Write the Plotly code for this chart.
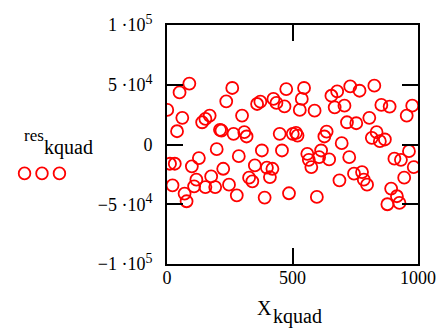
import plotly.graph_objects as go

x_kquad = [1, 12, 22, 31, 40, 50, 61, 70, 78, 89, 99, 108, 117, 127, 140, 153, 153, 170, 176, 192,
           198, 211, 217, 224, 236, 247, 260, 265, 278, 286, 299, 308, 317, 327, 340, 350, 359, 372,
           378, 389, 398, 410, 420, 424, 436, 449, 458, 468, 475, 486, 501, 514, 520, 529, 537, 546,
           559, 565, 575, 588, 597, 606, 614, 627, 636, 646, 655, 668, 678, 687, 696, 707, 717, 726,
           730, 745, 754, 767, 777, 784, 797, 806, 816, 826, 835, 848, 854, 868, 878, 887, 893, 906,
           916, 926, 932, 945, 955, 964, 977, 983]
res_kquad = [28900, -16100, -34200, -16100, 11100, 43600, 22300, -41100, -47500, 51000, -18300,
             -35000, -29400, -11400, 18600, 21400, -35600, 24200, -26700, -35600, -3900, 12300,
             11700, -20300, 36100, -33600, 47300, 8900, -42500, -9800, 24200, 10300, 6700, -27800,
             -30800, -17500, 33900, 35800, -5000, -44400, -19400, -27300, -20300, 38100, 34800, 8900,
             -5000, 31900, 46400, -40800, 8900, 9800, 7500, 28900, 38100, 47300, -7800, -12800,
             -18900, 28300, -43900, -10600, -5000, 6700, 10800, -12500, 40800, 31100, 44400, -30000,
             1100, 32500, 18600, -10600, 48600, -24400, 17800, 45000, -23100, -29400, -33600, 22300,
             5600, 49200, 10300, 2800, 33100, 4200, -50000, 31700, -36900, -11900, -43300, -48900,
             -12800, -27800, 24200, -5600, 32500, -18900]

x_ticks = [0, 500, 1000]
x_ticktext = ["0", "500", "1000"]
y_ticks = [-100000, -50000, 0, 50000, 100000]
SUP = "<sup><span style='font-size:14px'>%s</span></sup>"
y_ticktext = ["\u22121 \u00b710" + SUP % "5", "\u22125 \u00b710" + SUP % "4", "0",
              "5 \u00b710" + SUP % "4", "1 \u00b710" + SUP % "5"]

W, H = 448, 331
# plot frame in page pixels
L, R, T, B = 167, 426, 24, 264
FONT = "Liberation Serif"


def px(xp):
    return (xp - L) / (R - L)


def py(yp):
    return (B - yp) / (B - T)


fig = go.Figure()
fig.add_trace(go.Scatter(
    x=x_kquad, y=res_kquad, mode="markers", showlegend=False,
    marker=dict(symbol="circle-open", size=12, color="#ff0000",
                line=dict(color="#ff0000", width=1.8)),
    cliponaxis=True, hoverinfo="skip",
))

axis_common = dict(
    showline=True, linecolor="black", linewidth=2, mirror="ticks",
    ticks="inside", ticklen=16, tickwidth=2, tickcolor="black",
    showgrid=False, zeroline=False,
    tickfont=dict(family=FONT, size=18, color="black"),
)

fig.update_xaxes(range=[0, 1000], tickvals=x_ticks, ticktext=x_ticktext,
                 ticklabelstandoff=-4, **axis_common)
fig.update_yaxes(range=[-100000, 100000], tickvals=y_ticks, ticktext=y_ticktext,
                 ticklabelstandoff=9, **axis_common)

annotations = [
    dict(text="X", x=px(258), y=py(308), xanchor="left", yanchor="middle",
         font=dict(family=FONT, size=20, color="black")),
    dict(text="kquad", x=px(274), y=py(317), xanchor="left", yanchor="middle",
         font=dict(family=FONT, size=20, color="black")),
    dict(text="res", x=px(17), y=py(135), xanchor="left", yanchor="middle",
         font=dict(family=FONT, size=17, color="black")),
    dict(text="kquad", x=px(38), y=py(147), xanchor="left", yanchor="middle",
         font=dict(family=FONT, size=20, color="black")),
]
for a in annotations:
    a.update(xref="paper", yref="paper", showarrow=False)

shapes = []
for cx in (20, 38, 56):
    shapes.append(dict(type="circle", xref="paper", yref="paper",
                       x0=px(cx - 6), x1=px(cx + 6), y0=py(173 + 6), y1=py(173 - 6),
                       line=dict(color="#ff0000", width=1.8)))

fig.update_layout(
    width=W, height=H,
    margin=dict(l=L, r=W - R, t=T, b=H - B),
    paper_bgcolor="white", plot_bgcolor="white",
    annotations=annotations, shapes=shapes,
    font=dict(family=FONT, color="black"),
    hovermode=False,
)

fig.write_html("out.html", config={"displayModeBar": False, "staticPlot": True},
               post_script="document.body.style.margin='0';document.body.style.padding='0';")
